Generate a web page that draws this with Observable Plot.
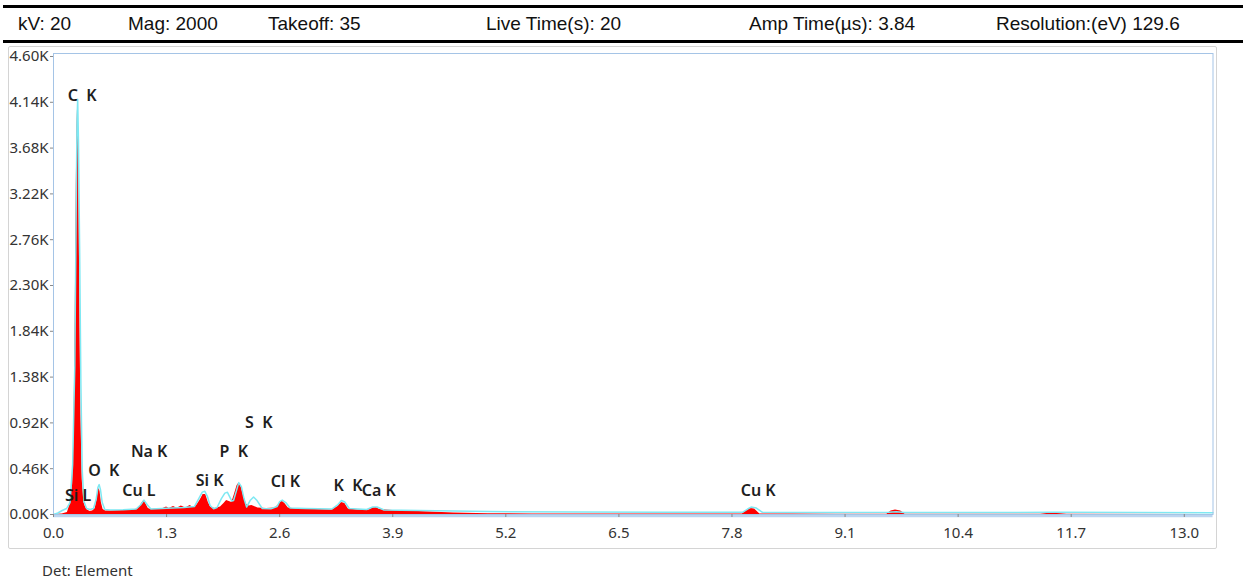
<!DOCTYPE html>
<html><head><meta charset="utf-8">
<script src="https://cdn.jsdelivr.net/npm/d3@7"></script>
<script src="https://cdn.jsdelivr.net/npm/@observablehq/plot@0.6"></script>
<style>
body{margin:0;background:#fff;}
#page{position:relative;width:1243px;height:583px;overflow:hidden;background:#fff;}
.hline{position:absolute;left:3px;right:0;height:3px;background:#000;}
.hdr{position:absolute;top:12px;height:24px;line-height:24px;font-family:"Liberation Sans",Arial,sans-serif;font-size:19px;color:#111;white-space:pre;}
#box{position:absolute;left:8px;top:46px;width:1209px;height:503px;border:1px solid #d4d4d4;border-radius:2px;box-sizing:border-box;pointer-events:none;}
#chart{position:absolute;left:0;top:44px;}
#chart svg text{white-space:pre;}
#det{position:absolute;left:42px;top:560px;font-family:"Noto Sans",sans-serif;font-size:15px;color:#333;}
</style></head>
<body>
<div id="page">
  <div class="hline" style="top:5px"></div>
  <div id="header"></div>
  <div class="hline" style="top:40px"></div>
  <div id="chart"></div>
  <div id="box"></div>
  <div id="det"></div>
</div>
<script>
// ---- data ----
const headerTexts = ["kV: 20", "Mag: 2000", "Takeoff: 35", "Live Time(s): 20", "Amp Time(\u00b5s): 3.84", "Resolution:(eV) 129.6"];
const footerText = "Det: Element";

// measured spectrum (red fill): energy keV, counts
const redEnergy = [0,0.10,0.16,0.19,0.22,0.235,0.25,0.262,0.27,0.277,0.285,0.295,0.305,0.315,0.33,0.35,0.37,0.39,0.42,0.45,0.48,0.50,0.515,0.525,0.535,0.55,0.57,0.60,0.70,0.80,0.90,0.97,1.00,1.025,1.04,1.06,1.09,1.12,1.20,1.26,1.30,1.33,1.38,1.42,1.47,1.52,1.57,1.61,1.65,1.69,1.72,1.75,1.78,1.81,1.86,1.92,1.96,1.99,2.02,2.05,2.08,2.11,2.13,2.16,2.19,2.22,2.25,2.28,2.31,2.35,2.45,2.55,2.59,2.625,2.66,2.70,2.80,3.00,3.20,3.27,3.31,3.35,3.39,3.50,3.63,3.67,3.71,3.75,3.90,4.20,4.60,5.00,5.50,6.00,7.00,7.92,7.97,8.01,8.06,8.12,8.50,9.00,9.58,9.63,9.68,9.74,9.79,10.50,11.35,11.42,11.50,11.58,11.65,13.33];
const redCounts = [0,5,20,100,300,800,2000,3300,3900,4100,3850,3000,1900,1000,350,120,70,45,30,35,60,150,240,260,230,120,50,35,38,40,45,55,90,125,140,110,60,50,55,60,75,60,80,62,85,65,90,70,95,150,200,200,120,70,60,75,110,140,130,120,200,290,315,270,170,100,85,90,80,65,60,65,100,135,110,65,55,50,45,80,120,110,55,45,45,65,70,50,40,30,15,8,6,5,4,4,40,60,55,6,4,3,3,35,45,35,3,2,2,10,12,8,2,1];

// overlay trace (cyan line)
const fitEnergy = [0,0.05,0.10,0.15,0.19,0.22,0.245,0.26,0.27,0.278,0.287,0.30,0.315,0.33,0.35,0.38,0.42,0.46,0.49,0.51,0.525,0.54,0.56,0.59,0.65,0.80,0.95,1.00,1.04,1.08,1.12,1.30,1.50,1.62,1.67,1.71,1.74,1.77,1.80,1.84,1.88,1.93,1.97,2.00,2.03,2.05,2.07,2.10,2.13,2.16,2.19,2.22,2.26,2.30,2.34,2.40,2.50,2.57,2.60,2.63,2.67,2.72,2.90,3.20,3.27,3.31,3.35,3.40,3.60,3.67,3.72,3.80,4.20,5.00,6.00,7.00,7.92,7.98,8.02,8.08,8.15,9.00,9.60,9.69,9.78,11.00,11.50,13.33];
const fitCounts = [0,15,40,60,120,500,1500,3000,3950,4170,3750,2700,1300,450,130,60,50,60,150,270,300,250,120,50,45,48,55,95,145,95,55,62,70,80,160,225,233,180,90,57,70,160,215,223,170,135,140,230,320,280,160,75,140,175,140,60,58,80,130,145,120,65,60,55,100,140,125,60,50,75,75,45,40,30,25,22,22,55,75,65,22,20,22,28,21,20,22,18];

// peak labels
const peakElements = ["C","Si","O","Na","Cu","Si","P","S","Cl","K","Ca","Cu"];
const peakLines    = ["K","L","K","K","L","K","K","K","K","K","K","K"];
const peakEnergy   = [0.330,0.282,0.578,1.100,0.981,1.796,2.073,2.360,2.667,3.386,3.740,8.102];
const peakCounts   = [4200,190,440,630,240,340,630,920,330,290,240,240];

// axis ticks
const xTicks = [0,1.3,2.6,3.9,5.2,6.5,7.8,9.1,10.4,11.7,13.0];
const yTicks = [0,460,920,1380,1840,2300,2760,3220,3680,4140,4600];

// ---- layout ----
const headerX = [18,128,268,486,749,996];
const hdr = document.getElementById("header");
headerTexts.forEach((t,i) => {
  const d = document.createElement("div");
  d.className = "hdr"; d.style.left = headerX[i] + "px"; d.textContent = t;
  hdr.appendChild(d);
});
document.getElementById("det").textContent = footerText;

const red = redEnergy.map((e,i) => ({e, c: redCounts[i]}));
const fit = fitEnergy.map((e,i) => ({e, c: fitCounts[i]}));
const peaks = peakElements.map((el,i) => ({
  label: el.padEnd(2, " ") + " " + peakLines[i], e: peakEnergy[i], c: peakCounts[i]
}));

const chart = Plot.plot({
  width: 1243, height: 505,
  marginLeft: 53, marginRight: 30.5, marginTop: 9, marginBottom: 35,
  style: {fontFamily: '"Noto Sans", sans-serif', fontSize: "15px", color: "#333", background: "transparent", overflow: "hidden"},
  x: {domain: [0, 13.33]},
  y: {domain: [0, 4630]},
  marks: [
    Plot.areaY(red, {x: "e", y: "c", fill: "#ff0000"}),
    Plot.lineY(fit, {x: "e", y: "c", stroke: "#7ee8f2", strokeWidth: 1.5}),
    Plot.ruleY([0], {stroke: "#bcd5ef", strokeWidth: 2.5, dy: 1.5}),
    Plot.frame({stroke: "#a5c4e6"}),
    Plot.axisX(xTicks, {tickFormat: d => d.toFixed(1), tickSize: 3, tickPadding: 10, stroke: "#888", fill: "#333", label: null}),
    Plot.axisY(yTicks, {tickFormat: d => (d/1000).toFixed(2) + "K", tickSize: 3, tickPadding: 2, stroke: "#888", fill: "#333", label: null}),
    Plot.text(peaks, {x: "e", y: "c", text: "label", fontSize: 16, fontWeight: 600, fill: "#1e1e1e", fontFamily: '"Noto Sans", sans-serif'})
  ]
});
document.getElementById("chart").appendChild(chart);
</script>
</body></html>
